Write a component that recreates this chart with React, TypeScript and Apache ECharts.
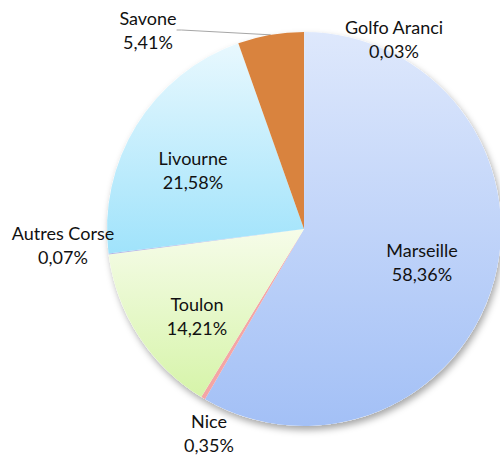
import React, { useEffect, useRef } from "react";
import * as echarts from "echarts";

const categories = ["Golfo Aranci", "Marseille", "Nice", "Toulon", "Autres Corse", "Livourne", "Savone"];
const shares = [0.03, 58.36, 0.35, 14.21, 0.07, 21.58, 5.41];

// label anchor points (pixel centres of each two-line label)
const labelAnchors: [number, number][] = [
  [394, 39],
  [422, 262],
  [209, 433],
  [197, 316],
  [63, 245],
  [193, 170],
  [148, 30],
];

const grad = (a: string, b: string) =>
  new echarts.graphic.LinearGradient(0, 0, 0, 1, [
    { offset: 0, color: a },
    { offset: 1, color: b },
  ]);

const sliceColors = [
  "#c9c9c9",
  grad("#dee8fc", "#a3c0f6"),
  "#f4a5a5",
  grad("#f6fce9", "#d6f4a9"),
  "#b4b6e4",
  grad("#e8f8fe", "#a0e3fb"),
  "#d9833e",
];

const fmt = (v: number) => v.toFixed(2).replace(".", ",") + "%";

export default function App() {
  const ref = useRef<HTMLDivElement>(null);
  useEffect(() => {
    if (!ref.current) return;
    const chart = echarts.init(ref.current, undefined, { renderer: "svg" });
    const center = [304, 229];
    const radius = 197;
    chart.setOption({
      animation: false,
      backgroundColor: "#ffffff",
      series: [
        {
          type: "pie",
          z: 1,
          silent: true,
          center,
          radius,
          label: { show: false },
          labelLine: { show: false },
          itemStyle: {
            color: "#ffffff",
            shadowBlur: 7,
            shadowOffsetX: 2,
            shadowOffsetY: 4,
            shadowColor: "rgba(0,0,0,0.35)",
          },
          data: [{ value: 1, name: "" }],
        },
        {
          type: "pie",
          z: 2,
          center,
          radius,
          startAngle: 90,
          clockwise: true,
          minAngle: 0,
          avoidLabelOverlap: false,
          itemStyle: { borderWidth: 0 },
          label: {
            show: true,
            position: "outside",
            formatter: (p: any) => `${p.name}\n${fmt(p.value)}`,
            fontFamily: "Lato",
            fontSize: 18,
            lineHeight: 24,
            color: "#111111",
            align: "center",
          },
          labelLine: { show: false },
          labelLayout: (p: any) => {
            const a = labelAnchors[p.dataIndex];
            return { x: a[0], y: a[1], align: "center", verticalAlign: "middle" };
          },
          data: categories.map((name, i) => ({
            name,
            value: shares[i],
            itemStyle: { color: sliceColors[i] },
            labelLine:
              name === "Savone"
                ? { show: true, length: 5, length2: 5, lineStyle: { color: "#a6a6a6", width: 1 } }
                : { show: false },
          })),
        },
      ],
    });
    return () => chart.dispose();
  }, []);
  return (
    <div
      ref={ref}
      style={{ position: "fixed", left: 0, top: 0, width: 500, height: 461 }}
    />
  );
}
